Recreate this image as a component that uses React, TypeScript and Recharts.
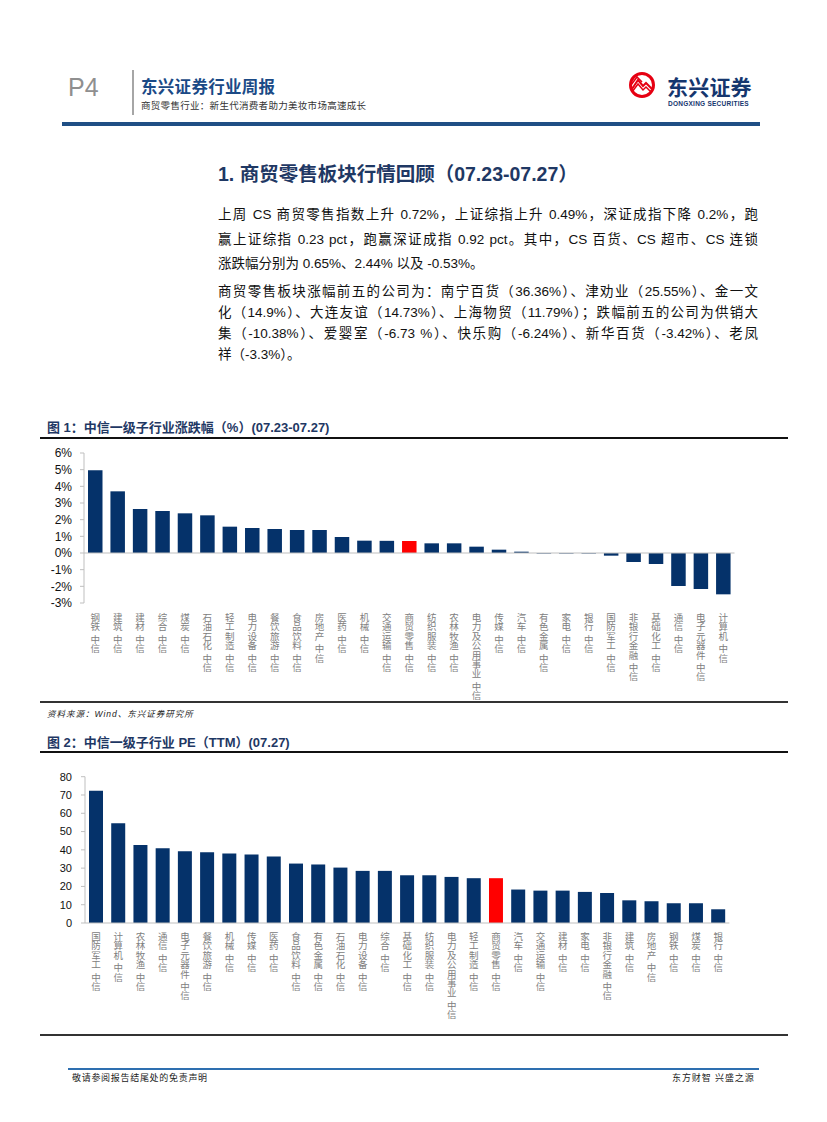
import { Bar, BarChart, Cell, ReferenceLine, XAxis, YAxis } from "recharts";

// 图1：中信一级子行业涨跌幅（%）(07.23-07.27)
const chgIndustries = [
  "钢铁 中信", "建筑 中信", "建材 中信", "综合 中信", "煤炭 中信", "石油石化 中信", "轻工制造 中信",
  "电力设备 中信", "餐饮旅游 中信", "食品饮料 中信", "房地产 中信", "医药 中信", "机械 中信",
  "交通运输 中信", "商贸零售 中信", "纺织服装 中信", "农林牧渔 中信", "电力及公用事业 中信",
  "传媒 中信", "汽车 中信", "有色金属 中信", "家电 中信", "银行 中信", "国防军工 中信",
  "非银行金融 中信", "基础化工 中信", "通信 中信", "电子元器件 中信", "计算机 中信",
];
const chgValues = [
  4.96, 3.7, 2.64, 2.52, 2.38, 2.26, 1.58, 1.5, 1.44, 1.38, 1.38, 0.96, 0.74, 0.73, 0.72, 0.58,
  0.58, 0.38, 0.2, 0.08, -0.03, -0.03, -0.03, -0.16, -0.54, -0.66, -1.98, -2.16, -2.48,
];
const chgTicks = [-3, -2, -1, 0, 1, 2, 3, 4, 5, 6];

// 图2：中信一级子行业 PE（TTM）(07.27)
const peIndustries = [
  "国防军工 中信", "计算机 中信", "农林牧渔 中信", "通信 中信", "电子元器件 中信", "餐饮旅游 中信",
  "机械 中信", "传媒 中信", "医药 中信", "食品饮料 中信", "有色金属 中信", "石油石化 中信",
  "电力设备 中信", "综合 中信", "基础化工 中信", "纺织服装 中信", "电力及公用事业 中信",
  "轻工制造 中信", "商贸零售 中信", "汽车 中信", "交通运输 中信", "建材 中信", "家电 中信",
  "非银行金融 中信", "建筑 中信", "房地产 中信", "钢铁 中信", "煤炭 中信", "银行 中信",
];
const peValues = [
  72.3, 54.6, 42.7, 40.9, 39.3, 38.7, 38.0, 37.4, 36.3, 32.5, 32.0, 30.3, 28.5, 28.5, 26.1, 26.1,
  25.2, 24.5, 24.5, 18.3, 17.7, 17.7, 17.0, 16.4, 12.4, 11.9, 10.8, 10.8, 7.5,
];
const peTicks = [0, 10, 20, 30, 40, 50, 60, 70, 80];

const highlight = "商贸零售 中信";

const chgData = chgIndustries.map((name, i) => ({ name, value: chgValues[i] }));
const peData = peIndustries.map((name, i) => ({ name, value: peValues[i] }));

const NAVY = "#05326a";
const RED = "#ff0000";
const AXIS = "#bfbfbf";
const FONT = '"Liberation Sans", Arial, "Noto Sans CJK SC", sans-serif';

function VerticalTick({ x, y, payload, top }: any) {
  const chars = String(payload.value).split("");
  let cy = y + top;
  const out: any[] = [];
  chars.forEach((c, i) => {
    if (c === " ") {
      cy += 3;
      return;
    }
    out.push(
      <text key={i} x={x} y={cy} textAnchor="middle" fontSize={9.5} fill="#808080" fontFamily={FONT}>
        {c}
      </text>
    );
    cy += 9.4;
  });
  return <g>{out}</g>;
}

function Abs({ left, top, style, children }: any) {
  return <div style={{ position: "absolute", left, top, whiteSpace: "nowrap", ...style }}>{children}</div>;
}

function Line({ top, children, last }: any) {
  return (
    <div
      style={{
        position: "absolute",
        left: 218,
        top,
        width: 540,
        height: 20,
        lineHeight: "20px",
        fontSize: 13.5,
        color: "#111",
        textAlign: "justify",
        textAlignLast: last ? "left" : "justify",
      }}
    >
      {children}
    </div>
  );
}

function Logo() {
  return (
    <svg width={28} height={28} viewBox="-14 -14 28 28" style={{ position: "absolute", left: 628, top: 71 }}>
      <circle r={11.5} fill="none" stroke="#e60012" strokeWidth={3} />
      <path d="M-10 4 L-4 -5 L1 1 L4 -2 L10 4" fill="none" stroke="#e60012" strokeWidth={2} />
      <path d="M-10 7 L-4 -1 L1 5 L4 2 L9 7" fill="none" stroke="#e60012" strokeWidth={1.5} />
      <path d="M-11 0 L-5 -8 L0 -3" fill="none" stroke="#e60012" strokeWidth={1.5} />
    </svg>
  );
}

export default function App() {
  return (
    <div
      style={{
        position: "absolute",
        left: 0,
        top: 0,
        width: 827,
        height: 1122,
        background: "#fff",
        fontFamily: FONT,
        overflow: "hidden",
      }}
    >
      {/* header */}
      <Abs left={68} top={73} style={{ fontSize: 25, color: "#8f8f8f" }}>P4</Abs>
      <div style={{ position: "absolute", left: 132, top: 70, width: 2, height: 45, background: "#a6a6a6" }} />
      <Abs left={141} top={74} style={{ fontSize: 16.5, fontWeight: 700, color: "#1b4a86", letterSpacing: 0.3 }}>
        东兴证券行业周报
      </Abs>
      <Abs left={141} top={98} style={{ fontSize: 9.5, color: "#333", letterSpacing: 0.3 }}>
        商贸零售行业：新生代消费者助力美妆市场高速成长
      </Abs>
      <Logo />
      <Abs left={667} top={71} style={{ fontSize: 21, fontWeight: 700, color: "#15366e", letterSpacing: 0.2 }}>
        东兴证券
      </Abs>
      <Abs left={668} top={100} style={{ fontSize: 6.5, lineHeight: "7px", fontWeight: 700, color: "#15366e", letterSpacing: 0.25 }}>
        DONGXING SECURITIES
      </Abs>
      <div style={{ position: "absolute", left: 62, top: 122, width: 698, height: 4, background: "#1f4f85" }} />

      {/* section */}
      <Abs left={218} top={158} style={{ fontSize: 19.5, fontWeight: 700, color: "#1f3864" }}>
        1. 商贸零售板块行情回顾（07.23-07.27）
      </Abs>
      <Line top={205}>上周 CS 商贸零售指数上升 0.72%，上证综指上升 0.49%，深证成指下降 0.2%，跑</Line>
      <Line top={230}>赢上证综指 0.23 pct，跑赢深证成指 0.92 pct。其中，CS 百货、CS 超市、CS 连锁</Line>
      <Line top={254} last>涨跌幅分别为 0.65%、2.44% 以及 -0.53%。</Line>
      <Line top={282}>商贸零售板块涨幅前五的公司为：南宁百货（36.36%）、津劝业（25.55%）、金一文</Line>
      <Line top={303}>化（14.9%）、大连友谊（14.73%）、上海物贸（11.79%）；跌幅前五的公司为供销大</Line>
      <Line top={324}>集（-10.38%）、爱婴室（-6.73 %）、快乐购（-6.24%）、新华百货（-3.42%）、老凤</Line>
      <Line top={345} last>祥（-3.3%）。</Line>

      {/* figure 1 */}
      <Abs left={47} top={417} style={{ fontSize: 13, fontWeight: 700, color: "#1f3864" }}>
        图 1：中信一级子行业涨跌幅（%）(07.23-07.27)
      </Abs>
      <div style={{ position: "absolute", left: 40, top: 437, width: 748, height: 1.5, background: "#111" }} />
      <div style={{ position: "absolute", left: 0, top: 440 }}>
        <BarChart width={760} height={260} data={chgData} margin={{ top: 13, right: 25.5, bottom: 0, left: 0 }}>
          <YAxis
            width={84}
            domain={[-3, 6]}
            ticks={chgTicks}
            interval={0}
            tickFormatter={(v: number) => `${v}%`}
            tick={{ fill: "#111", fontSize: 12, fontFamily: FONT }}
            axisLine={{ stroke: AXIS }}
            tickLine={{ stroke: AXIS }}
            tickSize={4}
            tickMargin={8}
          />
          <XAxis
            dataKey="name"
            interval={0}
            height={97}
            axisLine={false}
            tickLine={false}
            tick={(p: any) => <VerticalTick {...p} top={10} />}
          />
          <ReferenceLine y={0} stroke={AXIS} />
          <Bar dataKey="value" barSize={14.5} isAnimationActive={false}>
            {chgData.map((d) => (
              <Cell key={d.name} fill={d.name === highlight ? RED : NAVY} />
            ))}
          </Bar>
        </BarChart>
      </div>
      <div style={{ position: "absolute", left: 40, top: 701, width: 748, height: 1.5, background: "#333" }} />
      <Abs left={47} top={707} style={{ fontSize: 8.5, fontStyle: "italic", color: "#222", letterSpacing: 1 }}>
        资料来源：Wind、东兴证券研究所
      </Abs>

      {/* figure 2 */}
      <Abs left={47} top={732} style={{ fontSize: 13, fontWeight: 700, color: "#1f3864" }}>
        图 2：中信一级子行业 PE（TTM）(07.27)
      </Abs>
      <div style={{ position: "absolute", left: 40, top: 751, width: 748, height: 1.5, background: "#111" }} />
      <div style={{ position: "absolute", left: 0, top: 760 }}>
        <BarChart width={760} height={273} data={peData} margin={{ top: 16.7, right: 30.6, bottom: 0, left: 0 }}>
          <YAxis
            width={85}
            domain={[0, 80]}
            ticks={peTicks}
            interval={0}
            tick={{ fill: "#111", fontSize: 11, fontFamily: FONT }}
            axisLine={{ stroke: AXIS }}
            tickLine={{ stroke: AXIS }}
            tickSize={4}
            tickMargin={9}
          />
          <XAxis
            dataKey="name"
            interval={0}
            height={110}
            axisLine={{ stroke: AXIS }}
            tickLine={false}
            tick={(p: any) => <VerticalTick {...p} top={9} />}
          />
          <Bar dataKey="value" barSize={14} isAnimationActive={false}>
            {peData.map((d) => (
              <Cell key={d.name} fill={d.name === highlight ? RED : NAVY} />
            ))}
          </Bar>
        </BarChart>
      </div>
      <div style={{ position: "absolute", left: 40, top: 1034, width: 748, height: 1.5, background: "#333" }} />

      {/* footer */}
      <div style={{ position: "absolute", left: 68, top: 1068, width: 691, height: 1.5, background: "#2e6fb0" }} />
      <Abs left={72} top={1071} style={{ fontSize: 9, color: "#222", letterSpacing: 0.7 }}>敬请参阅报告结尾处的免责声明</Abs>
      <Abs left={672} top={1071} style={{ fontSize: 9, color: "#222", letterSpacing: 0.9 }}>东方财智 兴盛之源</Abs>
    </div>
  );
}
